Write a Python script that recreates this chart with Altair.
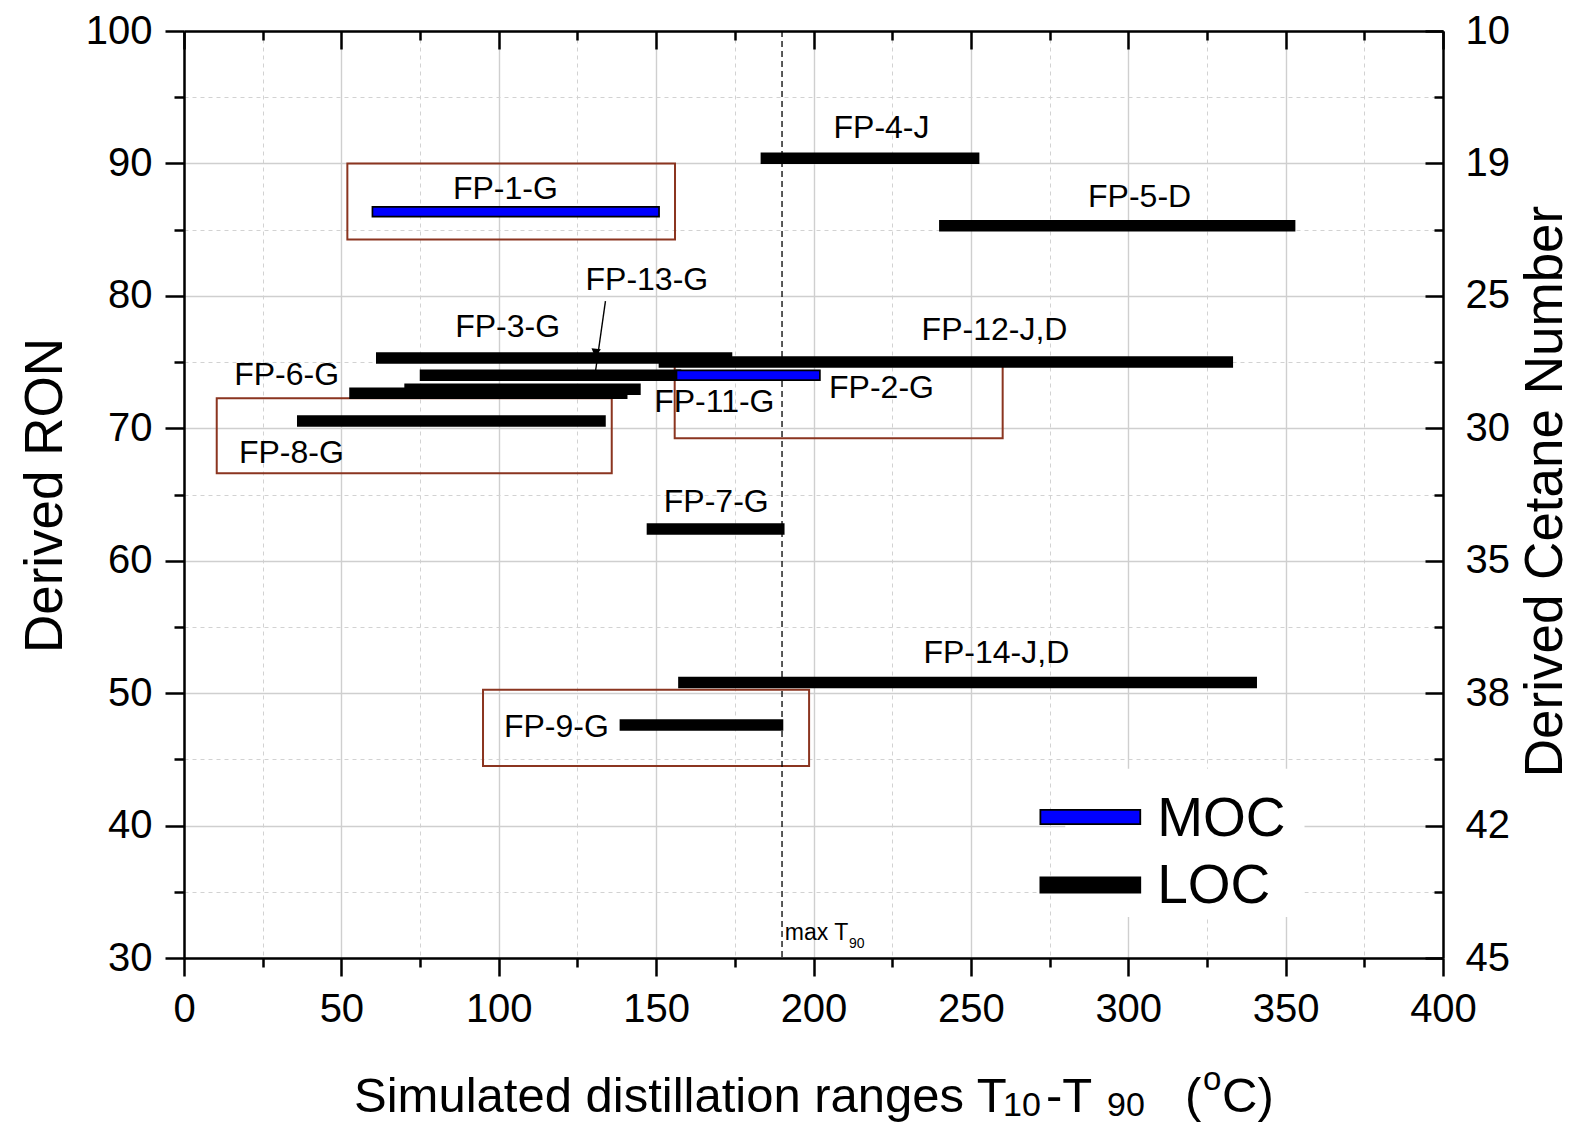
import altair as alt
import pandas as pd

# ---------------- data ----------------
names = ["FP-1-G", "FP-2-G", "FP-3-G", "FP-4-J", "FP-5-D", "FP-6-G", "FP-7-G",
         "FP-8-G", "FP-9-G", "FP-11-G", "FP-12-J,D", "FP-13-G", "FP-14-J,D"]
t10 = [59.6, 156.2, 61.0, 183.2, 239.9, 52.5, 147.0, 35.9, 138.4, 70.0, 150.8, 74.9, 157.0]
t90 = [151.2, 202.3, 174.2, 252.7, 353.1, 140.9, 190.8, 134.0, 190.4, 145.1, 333.3, 158.0, 340.9]
ron = [86.35, 74.0, 75.3, 90.4, 85.3, 72.65, 62.4, 70.55, 47.6, 72.95, 75.0, 74.0, 50.8]
oxid = ["MOC", "MOC", "LOC", "LOC", "LOC", "LOC", "LOC", "LOC", "LOC", "LOC", "LOC", "LOC", "LOC"]

label_x = [102.1, 221.6, 102.8, 221.6, 303.6, 32.6, 169.1, 34.1, 118.3, 168.5, 257.5, 147.05, 258.1]
label_y = [87.31, 72.26, 76.91, 91.89, 86.73, 73.27, 63.71, 67.36, 46.72, 71.25, 76.66, 80.44, 52.26]

box_x1 = [51.9, 10.4, 155.9, 95.0]
box_x2 = [156.0, 135.9, 260.1, 198.6]
box_y1 = [84.26, 66.6, 69.25, 44.5]
box_y2 = [90.0, 72.26, 74.9, 50.25]

arrow_x = [133.9]
arrow_x2 = [130.8]
arrow_y = [79.6]
arrow_y2 = [74.4]

legend_names = ["MOC", "LOC"]
legend_y = [40.64, 35.51]
legend_text_y = [39.23, 34.15]
legend_x1 = [271.8, 271.8]
legend_x2 = [304.1, 304.1]
legend_text_x = [309.2, 309.2]

max_t90 = 190

ron_ticks = [30, 40, 50, 60, 70, 80, 90, 100]
ron_minor = [35, 45, 55, 65, 75, 85, 95]
cetane_at_ron = [45, 42, 38, 35, 30, 25, 19, 10]
x_ticks = [0, 50, 100, 150, 200, 250, 300, 350, 400]
x_minor = [25, 75, 125, 175, 225, 275, 325, 375]

W, H = 1259, 927
FONT = "Liberation Sans"

df = pd.DataFrame({"name": names, "t10": t10, "t90": t90, "ron": ron, "oxid": oxid,
                   "lx": label_x, "ly": label_y})
loc = df[df.oxid == "LOC"]
moc = df[df.oxid == "MOC"]
boxes = pd.DataFrame({"x1": box_x1, "x2": box_x2, "y1": box_y1, "y2": box_y2})
arrow = pd.DataFrame({"x": arrow_x, "x2": arrow_x2, "y": arrow_y, "y2": arrow_y2})
leg = pd.DataFrame({"name": legend_names, "y": legend_y, "ty": legend_text_y,
                    "x1": legend_x1, "x2": legend_x2, "tx": legend_text_x})
leg_moc = leg[leg.name == "MOC"]
leg_loc = leg[leg.name == "LOC"]

xs = alt.Scale(domain=[0, 400], nice=False, zero=False)
ys = alt.Scale(domain=[30, 100], nice=False, zero=False)

label_expr = "".join(
    f"datum.value == {r} ? '{c}' : " for r, c in zip(ron_ticks, cetane_at_ron)) + "''"

# ---------------- axes ----------------
ax_bottom = alt.Axis(orient="bottom", values=x_ticks, tickSize=18, labelPadding=13,
                     grid=True, gridColor="#cfcfcf", gridWidth=1.4, title=None,
                     labelFlush=False, labelOverlap=False)
ax_bottom_minor = alt.Axis(orient="bottom", values=x_minor, tickSize=9, labels=False,
                           grid=True, gridColor="#d2d2d2", gridWidth=1, gridDash=[4, 4],
                           domain=False, title=None)
ax_top = alt.Axis(orient="bottom", offset=-H, values=x_ticks, tickSize=18, labels=False,
                  grid=False, title=None)
ax_top_minor = alt.Axis(orient="bottom", offset=-H, values=x_minor, tickSize=9, labels=False,
                        grid=False, domain=False, title=None)
ax_left = alt.Axis(orient="left", values=ron_ticks, tickSize=19, labelPadding=13,
                   grid=True, gridColor="#cfcfcf", gridWidth=1.4, labelFlush=False,
                   labelOverlap=False,
                   title="Derived RON", titleAngle=270, titleX=-139, titleY=464,
                   titleAlign="center", titleBaseline="middle")
ax_left_minor = alt.Axis(orient="left", values=ron_minor, tickSize=10, labels=False,
                         grid=True, gridColor="#d2d2d2", gridWidth=1, gridDash=[4, 4],
                         domain=False, title=None)
ax_right_in = alt.Axis(orient="left", offset=-W, values=ron_ticks, tickSize=18, labels=False,
                       grid=False, title=None)
ax_right_in_minor = alt.Axis(orient="left", offset=-W, values=ron_minor, tickSize=9,
                             labels=False, grid=False, domain=False, title=None)
ax_right_labels = alt.Axis(orient="right", values=ron_ticks, ticks=False, tickSize=0,
                           domain=False, grid=False, labelPadding=22, labelExpr=label_expr,
                           labelFlush=False, labelOverlap=False,
                           title="Derived Cetane Number", titleAngle=270, titleX=102,
                           titleY=460, titleAlign="center", titleBaseline="middle")

# ---------------- layers ----------------
red_boxes = alt.Chart(boxes).mark_rect(fillOpacity=0, stroke="#8B3520", strokeWidth=2).encode(
    x=alt.X("x1:Q", scale=xs, axis=ax_bottom_minor), x2="x2:Q",
    y=alt.Y("y1:Q", scale=ys, axis=ax_left_minor), y2="y2:Q")

legend_bg = alt.Chart(leg.iloc[[0]]).mark_rect(color="white").encode(
    x=alt.datum(280, scale=xs, axis=ax_top_minor), x2=alt.datum(356),
    y=alt.datum(33.1, scale=ys, axis=ax_right_in_minor), y2=alt.datum(44.3))

maxline = alt.Chart(pd.DataFrame({"x": [max_t90]})).mark_rule(
    color="black", strokeWidth=1.3, strokeDash=[6, 4]).encode(
    x=alt.X("x:Q", scale=xs, axis=ax_top))

loc_bars = alt.Chart(loc).mark_rule(color="black", strokeWidth=11.5, strokeCap="butt").encode(
    x=alt.X("t10:Q", scale=xs, axis=ax_bottom), x2="t90:Q",
    y=alt.Y("ron:Q", scale=ys, axis=ax_left))

moc_outline = alt.Chart(moc).mark_rule(color="black", strokeWidth=11.5, strokeCap="butt").encode(
    x=alt.X("t10:Q", scale=xs, axis=None), x2="t90:Q",
    y=alt.Y("ron:Q", scale=ys, axis=ax_right_in))
moc_fill = alt.Chart(moc).mark_rule(color="#0000ff", strokeWidth=8, strokeCap="butt",
                                    xOffset=1.7, x2Offset=-1.7).encode(
    x=alt.X("t10:Q", scale=xs, axis=None), x2="t90:Q",
    y=alt.Y("ron:Q", scale=ys, axis=None))

labels = alt.Chart(df).mark_text(font=FONT, fontSize=32, align="center",
                                 baseline="alphabetic", color="black").encode(
    x=alt.X("lx:Q", scale=xs, axis=None),
    y=alt.Y("ly:Q", scale=ys, axis=ax_right_labels),
    text="name:N")

arrow_line = alt.Chart(arrow).mark_rule(color="black", strokeWidth=1.4).encode(
    x=alt.X("x:Q", scale=xs, axis=None), x2="x2:Q",
    y=alt.Y("y:Q", scale=ys, axis=None), y2="y2:Q")
arrow_head = alt.Chart(arrow).mark_point(shape="triangle-down", filled=True, size=90,
                                         angle=7, color="black", opacity=1).encode(
    x=alt.X("x2:Q", scale=xs, axis=None),
    y=alt.Y("ty:Q", scale=ys, axis=None)).transform_calculate(ty="datum.y2 + 1.3")

leg_moc_outline = alt.Chart(leg_moc).mark_rule(color="black", strokeWidth=16, strokeCap="butt").encode(
    x=alt.X("x1:Q", scale=xs, axis=None), x2="x2:Q", y=alt.Y("y:Q", scale=ys, axis=None))
leg_moc_fill = alt.Chart(leg_moc).mark_rule(color="#0000ff", strokeWidth=12.5, strokeCap="butt",
                                            xOffset=1.8, x2Offset=-1.8).encode(
    x=alt.X("x1:Q", scale=xs, axis=None), x2="x2:Q", y=alt.Y("y:Q", scale=ys, axis=None))
leg_loc_bar = alt.Chart(leg_loc).mark_rule(color="black", strokeWidth=17, strokeCap="butt").encode(
    x=alt.X("x1:Q", scale=xs, axis=None), x2="x2:Q", y=alt.Y("y:Q", scale=ys, axis=None))
leg_text = alt.Chart(leg).mark_text(font=FONT, fontSize=55, align="left",
                                    baseline="alphabetic", color="black").encode(
    x=alt.X("tx:Q", scale=xs, axis=None), y=alt.Y("ty:Q", scale=ys, axis=None),
    text="name:N")

maxt_text = alt.Chart(pd.DataFrame({"t": ["max T"], "x": [190.9], "y": [31.35]})).mark_text(
    font=FONT, fontSize=23, align="left", baseline="alphabetic", color="black").encode(
    x=alt.X("x:Q", scale=xs, axis=None), y=alt.Y("y:Q", scale=ys, axis=None), text="t:N")
maxt_sub = alt.Chart(pd.DataFrame({"t": ["90"], "x": [211.3], "y": [30.75]})).mark_text(
    font=FONT, fontSize=14, align="left", baseline="alphabetic", color="black").encode(
    x=alt.X("x:Q", scale=xs, axis=None), y=alt.Y("y:Q", scale=ys, axis=None), text="t:N")

# x-axis title with sub/superscripts (pixel positions relative to the plot area)
xt_parts = ["Simulated distillation ranges T", "10", "-T", "90", "(", "o", "C)"]
xt_px = [170, 819, 862, 923, 1001, 1019, 1038]
xt_py = [1081, 1085, 1081, 1085, 1081, 1059, 1081]
xt_fs = [49, 34, 49, 34, 49, 33, 49]
xtitle = [
    alt.Chart(pd.DataFrame({"t": [t]})).mark_text(
        font=FONT, fontSize=fs, align="left", baseline="alphabetic", color="black").encode(
        text="t:N", x=alt.value(px), y=alt.value(py))
    for t, px, py, fs in zip(xt_parts, xt_px, xt_py, xt_fs)
]

chart = alt.layer(
    red_boxes, legend_bg, maxline, loc_bars, moc_outline, moc_fill, labels,
    arrow_line, arrow_head, leg_moc_outline, leg_moc_fill, leg_loc_bar, leg_text,
    maxt_text, maxt_sub, *xtitle
).resolve_axis(x="independent", y="independent").properties(
    width=W, height=H, autosize="none",
    padding={"left": 176, "top": 23, "right": 128, "bottom": 164}
).configure_view(stroke=None).configure_axis(
    labelFont=FONT, labelFontSize=40, labelColor="black",
    tickColor="black", tickWidth=2.5, domainColor="black", domainWidth=2.5,
    titleFont=FONT, titleFontSize=53, titleFontWeight="normal", titleColor="black"
)

chart.save("out.html", embed_options={"renderer": "svg", "actions": False})
